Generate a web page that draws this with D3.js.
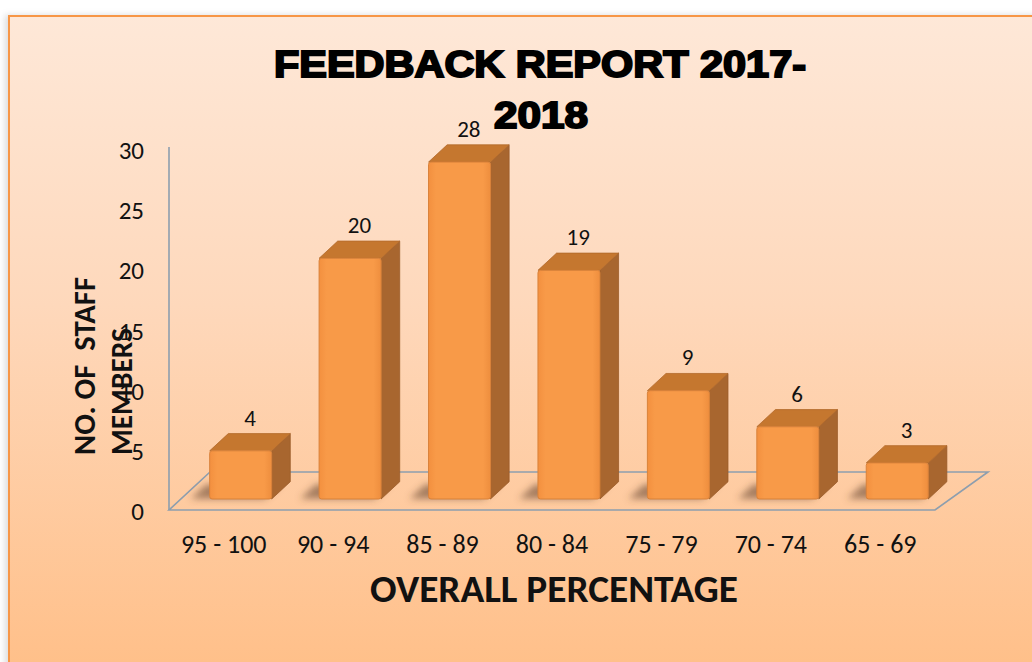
<!DOCTYPE html>
<html><head><meta charset="utf-8">
<script src="https://cdn.jsdelivr.net/npm/d3@7"></script>
<style>
html,body{margin:0;padding:0;background:#fff;}
svg{display:block;}
</style></head>
<body>
<script>
// ---- data ----
const categories = ["95 - 100","90 - 94","85 - 89","80 - 84","75 - 79","70 - 74","65 - 69"];
const staffCounts = [4, 20, 28, 19, 9, 6, 3];
const yTicks = [0, 5, 10, 15, 20, 25, 30];
const titleLines = ["FEEDBACK REPORT 2017-", "2018"];
const yTitleLines = ["NO. OF  STAFF", "MEMBERS"];
const xTitle = "OVERALL PERCENTAGE";

const W = 1032, H = 662;
const FONT = "Carlito, Calibri, Lato, 'Open Sans', sans-serif";

const svg = d3.select("body").append("svg").attr("width", W).attr("height", H);
const defs = svg.append("defs");

const bg = defs.append("linearGradient").attr("id","bg").attr("x1",0).attr("y1",0).attr("x2",0).attr("y2",1);
bg.append("stop").attr("offset","0%").attr("stop-color","#fee8d8");
bg.append("stop").attr("offset","45%").attr("stop-color","#fed8bb");
bg.append("stop").attr("offset","100%").attr("stop-color","#ffc08a");

const fg = defs.append("linearGradient").attr("id","front").attr("x1",0).attr("y1",0).attr("x2",1).attr("y2",0);
fg.append("stop").attr("offset","0%").attr("stop-color","#f3903f");
fg.append("stop").attr("offset","12%").attr("stop-color","#f89a48");
fg.append("stop").attr("offset","88%").attr("stop-color","#f89a48");
fg.append("stop").attr("offset","100%").attr("stop-color","#ee8e3e");

const blur = defs.append("filter").attr("id","blur").attr("x","-50%").attr("y","-50%").attr("width","200%").attr("height","200%");
blur.append("feGaussianBlur").attr("stdDeviation", 3.5);
const pshadow = defs.append("filter").attr("id","pshadow").attr("x","-5%").attr("y","-5%").attr("width","110%").attr("height","110%");
pshadow.append("feGaussianBlur").attr("stdDeviation", 3);

// ---- panel ----
svg.append("rect").attr("x",5).attr("y",15).attr("width",W).attr("height",H)
  .attr("fill","#999").attr("opacity",0.35).attr("filter","url(#pshadow)");
svg.append("rect").attr("x",8).attr("y",15).attr("width",W-8).attr("height",H-15).attr("fill","url(#bg)");
svg.append("path").attr("d",`M9,${H} V16 H${W}`).attr("fill","none").attr("stroke","#f79646").attr("stroke-width",2);

// ---- scales ----
const floorLeft = 169, floorRight = 935;
const depth = [41, -38];           // floor depth vector
const f0 = 0.316, f1 = 0.77;       // bar depth span (fraction of floor depth)
const xTick = d3.scaleBand().domain(categories).range([floorLeft, floorRight]);
const xBar = d3.scaleBand().domain(categories).range([floorLeft + 4, floorRight + 4])
  .paddingInner(0.4335).paddingOuter(0.21675);
const y = d3.scaleLinear().domain([0, 30]).range([511, 150]);
const P = (x, yy, f) => [x + depth[0]*f, yy + depth[1]*f];

// ---- floor ----
const y0 = y(0) - 1;
const floorPts = [P(floorLeft,y0,0), P(floorRight,y0,0), P(floorRight+12,y0,1), P(floorLeft,y0,1)];
svg.append("polygon").attr("points", floorPts.map(p=>p.join(",")).join(" "))
  .attr("fill","none").attr("stroke","#8d9eae").attr("stroke-width",1.6);
// vertical axis line
svg.append("line").attr("x1",floorLeft).attr("x2",floorLeft).attr("y1",y(30)-3).attr("y2",y0)
  .attr("stroke","#8d9eae").attr("stroke-width",1.6);

// ---- y tick labels ----
svg.append("g").selectAll("text").data(yTicks).join("text")
  .attr("x",144).attr("y",d=>y(d)).attr("dy","0.36em")
  .attr("text-anchor","end").attr("font-family",FONT).attr("font-size",25).attr("fill","#111")
  .text(d=>d);

// ---- x tick labels ----
svg.append("g").selectAll("text").data(categories).join("text")
  .attr("x",d=>xTick(d)+xTick.bandwidth()/2).attr("y",553)
  .attr("text-anchor","middle").attr("font-family",FONT).attr("font-size",26).attr("fill","#111")
  .text(d=>d);

// ---- bars ----
const bw = xBar.bandwidth();
const data = categories.map((c,i)=>({c, v: staffCounts[i]}));
const gShadow = svg.append("g").attr("filter","url(#blur)");
gShadow.selectAll("polygon").data(data).join("polygon")
  .attr("points", d=>{
    const x0 = xBar(d.c) - 18, x1 = xBar(d.c) + bw - 6;
    const pts = [P(x0,y0,f0-0.02), P(x1,y0,f0-0.02), P(x1,y0,f1-0.1), P(x0,y0,f1-0.1)];
    return pts.map(p=>p.join(",")).join(" ");
  })
  .attr("fill","#6b4a33").attr("opacity",0.6);

const gb = svg.append("g");
const bars = gb.selectAll("g").data(data).join("g");
// side face
bars.append("polygon").attr("points", d=>{
  const xr = xBar(d.c)+bw, yt = y(d.v), yb = y(0);
  return [P(xr,yb,f0),P(xr,yt,f0),P(xr,yt,f1),P(xr,yb,f1)].map(p=>p.join(",")).join(" ");
}).attr("fill","#a8662f").attr("stroke","#9a5c2a").attr("stroke-width",0.8).attr("stroke-linejoin","round");
// top face
bars.append("polygon").attr("points", d=>{
  const xl = xBar(d.c), xr = xl+bw, yt = y(d.v);
  return [P(xl,yt,f0),P(xr,yt,f0),P(xr,yt,f1),P(xl,yt,f1)].map(p=>p.join(",")).join(" ");
}).attr("fill","#c5772f").attr("stroke","#b36a2b").attr("stroke-width",0.8).attr("stroke-linejoin","round");
// front face
bars.append("rect")
  .attr("x", d=>P(xBar(d.c), y(d.v), f0)[0])
  .attr("y", d=>P(xBar(d.c), y(d.v), f0)[1])
  .attr("width", bw)
  .attr("height", d=>y(0)-y(d.v))
  .attr("rx",2.5)
  .attr("fill","url(#front)").attr("stroke","#d9823a").attr("stroke-width",1);

// value labels
svg.append("g").selectAll("text").data(data).join("text")
  .attr("x", d=>P(xBar(d.c)+bw/2, y(d.v), (f0+f1)/2)[0])
  .attr("y", d=>P(xBar(d.c), y(d.v), f1)[1] - 8)
  .attr("text-anchor","middle").attr("font-family",FONT).attr("font-size",23).attr("fill","#111")
  .text(d=>d.v);

// ---- title ----
const tg = svg.append("g").attr("font-family","'Liberation Sans', Arial, sans-serif")
  .attr("font-weight","bold").attr("fill","#000").attr("stroke","#000").attr("stroke-width",2)
  .attr("text-anchor","middle").attr("font-size",37);
tg.append("text").attr("x",540).attr("y",77).attr("textLength",532).attr("lengthAdjust","spacingAndGlyphs").text(titleLines[0]);
tg.append("text").attr("x",541).attr("y",128).attr("textLength",94).attr("lengthAdjust","spacingAndGlyphs").text(titleLines[1]);

// ---- axis titles ----
const yt = svg.append("g").attr("font-family",FONT).attr("font-weight","bold").attr("font-size",30).attr("fill","#111");
yt.append("text").attr("transform","translate(95,455) rotate(-90)").attr("textLength",178).attr("lengthAdjust","spacingAndGlyphs").style("white-space","pre").text(yTitleLines[0]);
yt.append("text").attr("transform","translate(132,455) rotate(-90)").attr("textLength",127).attr("lengthAdjust","spacingAndGlyphs").text(yTitleLines[1]);

svg.append("text").attr("x",554).attr("y",602).attr("text-anchor","middle")
  .attr("font-family",FONT).attr("font-weight","bold").attr("font-size",38).attr("fill","#111")
  .attr("textLength",368).attr("lengthAdjust","spacingAndGlyphs").text(xTitle);
</script>
</body></html>
